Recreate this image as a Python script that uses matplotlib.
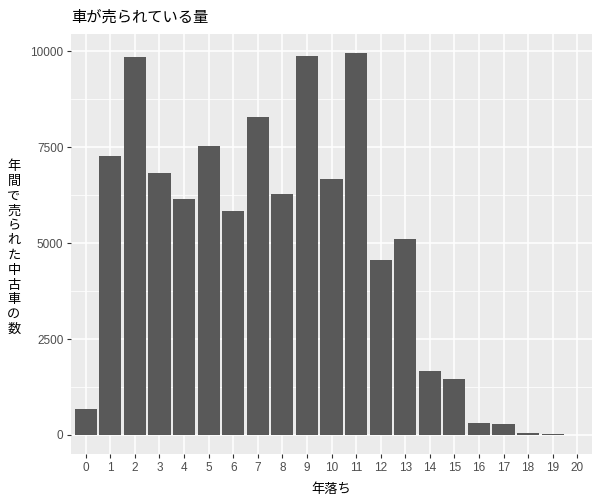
import matplotlib
matplotlib.use("Agg")
import matplotlib.pyplot as plt
from matplotlib.ticker import MultipleLocator

# data
years = [str(i) for i in range(21)]
counts = [676, 7280, 9852, 6836, 6161, 7538, 5849, 8292, 6290, 9870,
          6680, 9956, 4549, 5121, 1664, 1456, 312, 286, 52, 26, 3]
title = "車が売られている量"
xlabel = "年落ち"
ylabel = "年間で売られた中古車の数"

plt.rcParams['font.family'] = ['Noto Sans CJK JP', 'DejaVu Sans']

fig = plt.figure(figsize=(6, 5), dpi=100)
ax = fig.add_axes([71 / 600, 1 - 454 / 500, (592 - 71) / 600, (454 - 34) / 500])

x = list(range(len(years)))
ax.set_facecolor('#EBEBEB')
ax.bar(x, counts, width=0.9, color='#595959', zorder=3)

ymax = max(counts)
ax.set_ylim(-0.05 * ymax, 1.05 * ymax)
ax.set_xlim(-0.6, len(years) - 1 + 0.6)

ax.yaxis.set_major_locator(MultipleLocator(2500))
ax.yaxis.set_minor_locator(MultipleLocator(1250))
ax.set_xticks(x)
ax.set_xticklabels(years)

ax.grid(which='major', color='white', linewidth=1.1, zorder=0)
ax.grid(which='minor', axis='y', color='white', linewidth=0.55, zorder=0)
ax.set_axisbelow(True)

for s in ax.spines.values():
    s.set_visible(False)

ax.tick_params(axis='both', which='major', length=3, width=0.8, color='#333333',
               labelcolor='#4D4D4D', labelsize=8.5, pad=2.5)
ax.tick_params(which='minor', length=0)
for lab in ax.get_xticklabels() + ax.get_yticklabels():
    lab.set_family(['Liberation Sans', 'DejaVu Sans'])

ax.set_xlabel(xlabel, fontsize=9.5, labelpad=7)
fig.text(14 / 600, 1 - 248 / 500, "\n".join(ylabel), fontsize=9.5,
         ha='center', va='center', linespacing=1.18)
fig.text(71 / 600, 1 - 17 / 500, title, fontsize=11, ha='left', va='center')

fig.savefig("out.png", dpi=100)
